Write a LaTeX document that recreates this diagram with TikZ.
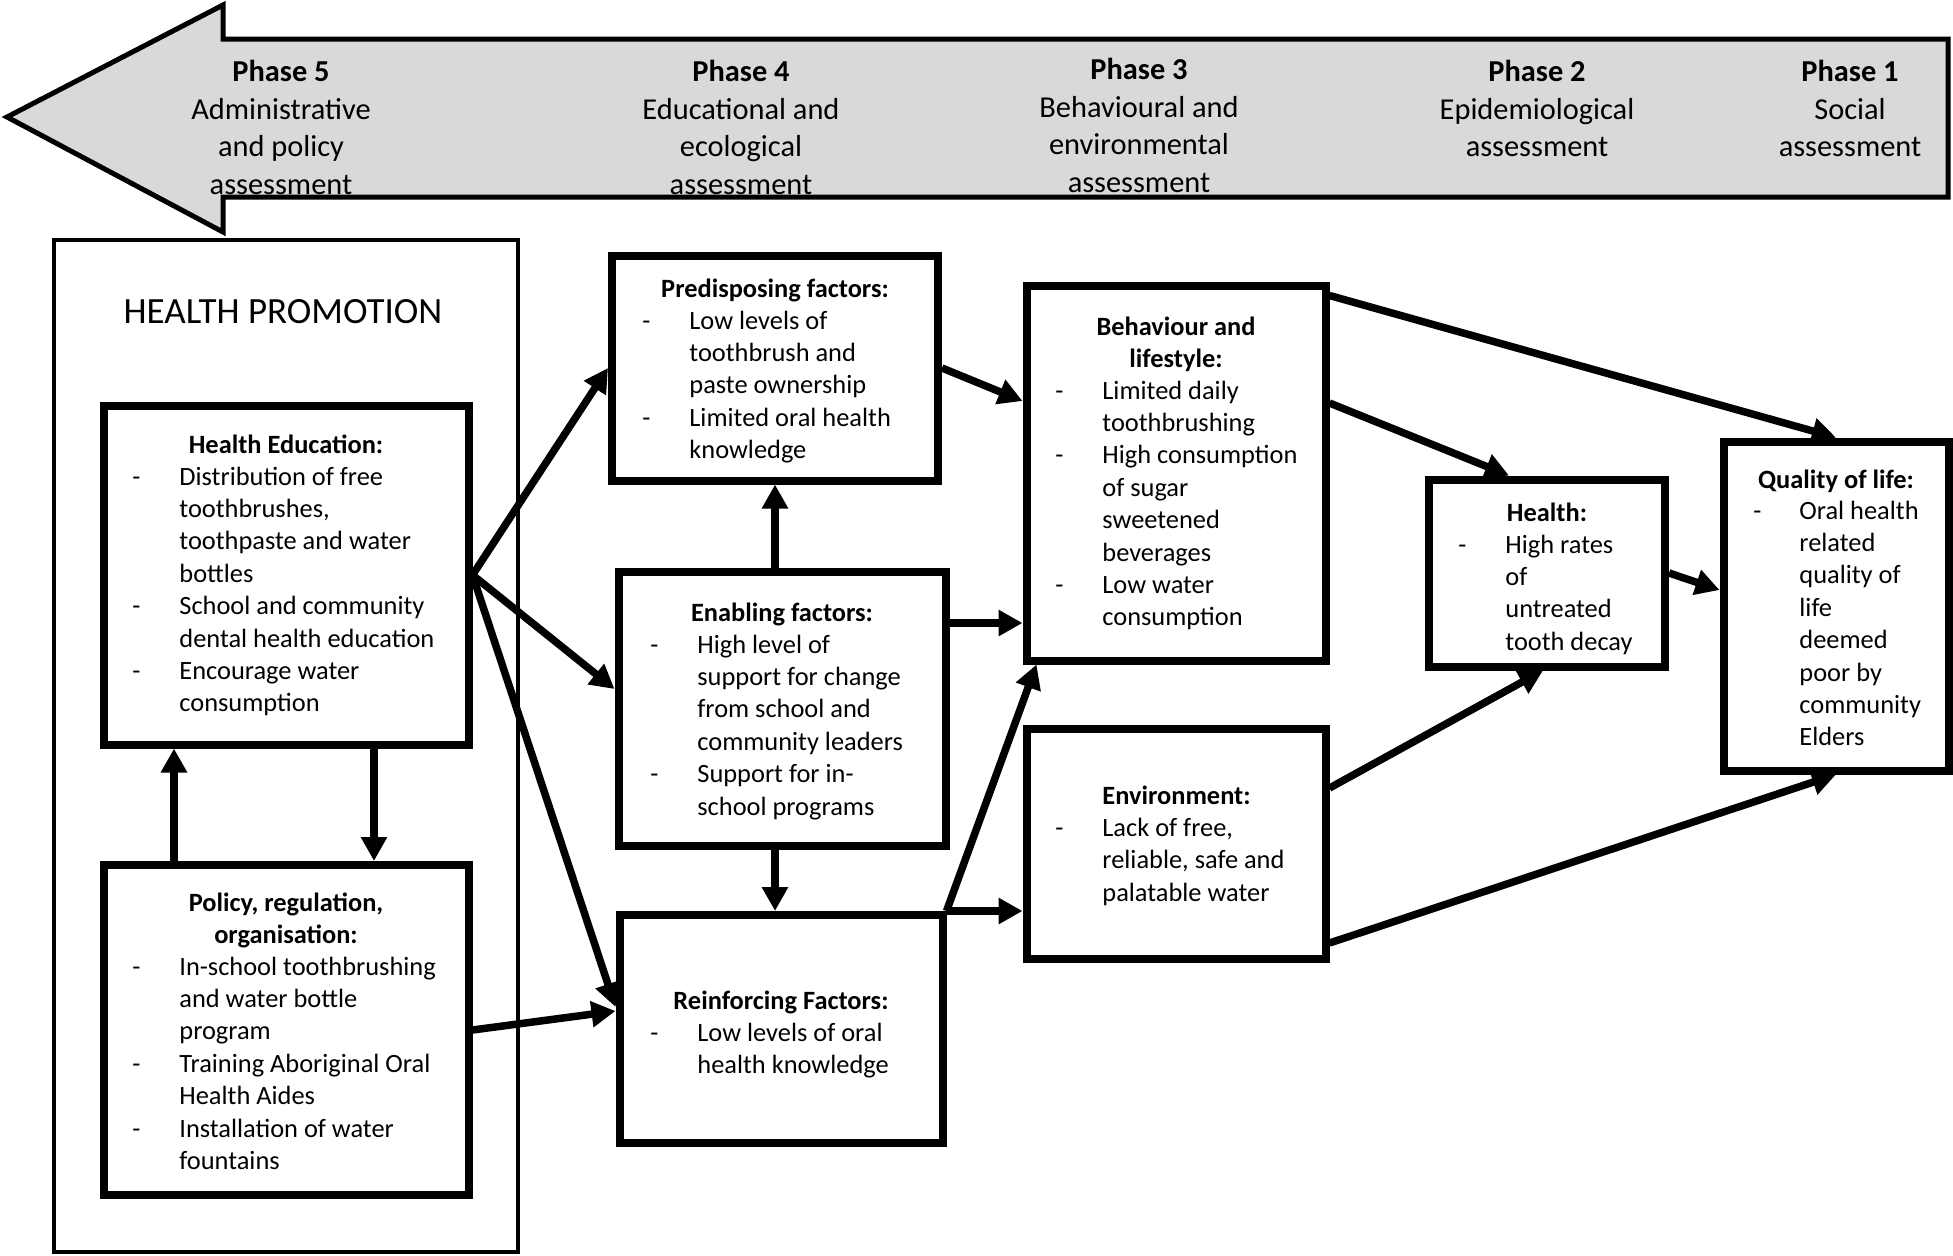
\documentclass[tikz,border=0pt]{standalone}
\usepackage{fontspec}
\setmainfont{Carlito}
\usetikzlibrary{arrows.meta}
\definecolor{grau}{RGB}{217,217,217}

\begin{document}
\begin{tikzpicture}[x=0.5pt,y=-0.5pt]
\tikzset{kasten/.style={draw,line width=4pt,inner sep=0pt},
  titel/.style={anchor=north,inner sep=0pt,font=\fontsize{13.2}{16.2}\selectfont\bfseries},
  liste/.style={anchor=north west,inner sep=0pt,font=\fontsize{13.2}{16.2}\selectfont},
  phase/.style={anchor=north,inner sep=0pt,font=\fontsize{15.2}{18.75}\selectfont},
  pfeil/.style={line width=3.75pt,-{Triangle[length=12pt,width=12.5pt]}}}
\useasboundingbox (0,0) rectangle (1953,1255);
% phases
\draw[line width=2.5pt,fill=grau] (7,117) -- (223,5) -- (223,39) -- (1948,39) -- (1948,197) -- (223,197) -- (223,232) -- cycle;
\node[phase] (p5) at (281,55) {\begin{tabular}{@{}c@{}}\textbf{Phase 5}\\Administrative\\and policy\\assessment\end{tabular}};
\node[phase] (p4) at (741,55) {\begin{tabular}{@{}c@{}}\textbf{Phase 4}\\Educational and\\ecological\\assessment\end{tabular}};
\node[phase] (p3) at (1139,53) {\begin{tabular}{@{}c@{}}\textbf{Phase 3}\\Behavioural and\\environmental\\assessment\end{tabular}};
\node[phase] (p2) at (1537,55) {\begin{tabular}{@{}c@{}}\textbf{Phase 2}\\Epidemiological\\assessment\end{tabular}};
\node[phase] (p1) at (1850,55) {\begin{tabular}{@{}c@{}}\textbf{Phase 1}\\Social\\assessment\end{tabular}};
% health promotion
\node[kasten,line width=2pt,minimum width=232pt,minimum height=506pt] (hp) at (286,746) {};
\node[inner sep=0pt,font=\fontsize{18.5}{22}\selectfont] (hpt) at (283,312) {HEALTH PROMOTION};
\node[kasten,minimum width=182.5pt,minimum height=169.5pt] (he) at (286,575) {};
\node[titel] (het) at (286,430) {\strut Health Education:};
\node[liste] (hel) at (132,462) {\begin{tabular}{@{}p{23.5pt}@{}l@{}}
- & Distribution of free\\ & toothbrushes,\\ & toothpaste and water\\ & bottles\\
- & School and community\\ & dental health education\\
- & Encourage water\\ & consumption\end{tabular}};
\node[kasten,minimum width=182.5pt,minimum height=165pt] (po) at (286,1030) {};
\node[titel] (pot) at (286,888) {\begin{tabular}{@{}c@{}}Policy, regulation,\\organisation:\end{tabular}};
\node[liste] (pol) at (132,952) {\begin{tabular}{@{}p{23.5pt}@{}l@{}}
- & In-school toothbrushing\\ & and water bottle\\ & program\\
- & Training Aboriginal Oral\\ & Health Aides\\
- & Installation of water\\ & fountains\end{tabular}};
% factors
\node[kasten,minimum width=163pt,minimum height=112.5pt] (pd) at (775,368) {};
\node[titel] (pdt) at (775,274) {\strut Predisposing factors:};
\node[liste] (pdl) at (642,306) {\begin{tabular}{@{}p{23.5pt}@{}l@{}}
- & Low levels of\\ & toothbrush and\\ & paste ownership\\
- & Limited oral health\\ & knowledge\end{tabular}};
\node[kasten,minimum width=163.5pt,minimum height=137pt] (en) at (782,709) {};
\node[titel] (ent) at (782,598) {\strut Enabling factors:};
\node[liste] (enl) at (650,630) {\begin{tabular}{@{}p{23.5pt}@{}l@{}}
- & High level of\\ & support for change\\ & from school and\\ & community leaders\\
- & Support for in-\\ & school programs\end{tabular}};
\node[kasten,minimum width=161.5pt,minimum height=114pt] (re) at (781,1029) {};
\node[titel] (ret) at (781,986) {\strut Reinforcing Factors:};
\node[liste] (rel) at (650,1018) {\begin{tabular}{@{}p{23.5pt}@{}l@{}}
- & Low levels of oral\\ & health knowledge\end{tabular}};
% behaviour and environment
\node[kasten,minimum width=149.5pt,minimum height=187.5pt] (bh) at (1176,473) {};
\node[titel] (bht) at (1176,312) {\begin{tabular}{@{}c@{}}Behaviour and\\lifestyle:\end{tabular}};
\node[liste] (bhl) at (1055,376) {\begin{tabular}{@{}p{23.5pt}@{}l@{}}
- & Limited daily\\ & toothbrushing\\
- & High consumption\\ & of sugar\\ & sweetened\\ & beverages\\
- & Low water\\ & consumption\end{tabular}};
\node[kasten,minimum width=149.5pt,minimum height=115pt] (ev) at (1176,844) {};
\node[liste] (evl) at (1055,781) {\begin{tabular}{@{}p{23.5pt}@{}l@{}}
 & \textbf{Environment:}\\
- & Lack of free,\\ & reliable, safe and\\ & palatable water\end{tabular}};
% health and quality of life
\node[kasten,minimum width=118pt,minimum height=93.5pt] (hl) at (1547,573) {};
\node[titel] (hlt) at (1547,498) {\strut Health:};
\node[liste] (hll) at (1458,530) {\begin{tabular}{@{}p{23.5pt}@{}l@{}}
- & High rates\\ & of\\ & untreated\\ & tooth decay\end{tabular}};
\node[kasten,minimum width=112.5pt,minimum height=164.5pt] (ql) at (1836,606) {};
\node[titel] (qlt) at (1836,465) {\strut Quality of life:};
\node[liste] (qll) at (1753,496) {\begin{tabular}{@{}p{23pt}@{}l@{}}
- & Oral health\\ & related\\ & quality of\\ & life\\ & deemed\\ & poor by\\ & community\\ & Elders\end{tabular}};
% arrows
\coordinate (herunter) at ([xshift=44pt]he.south);
\coordinate (hinauf) at ([xshift=-56pt]po.north);
\coordinate (enaus) at ([yshift=43pt]en.east);
\draw[pfeil] (herunter) -- (herunter |- po.north);
\draw[pfeil] (hinauf) -- (hinauf |- he.south);
\draw[pfeil] (he.east) -- (pd.west);
\draw[pfeil] (he.east) -- ([yshift=10pt]en.west);
\draw[pfeil] (he.east) -- ([yshift=11pt]re.west);
\draw[pfeil] (po.east) -- ([yshift=9pt]re.west);
\draw[pfeil] (en.north -| pd.south) -- (pd.south);
\draw[pfeil] (en.south -| pd.south) -- (re.north -| pd.south);
\draw[pfeil] (pd.east) -- ([yshift=36pt]bh.west);
\draw[pfeil] (enaus) -- (enaus -| bh.west);
\draw[pfeil] (re.north east) -- ([xshift=7pt]bh.south west);
\draw[pfeil] (re.north east) -- (re.north east -| ev.west);
\draw[pfeil] ([yshift=-7pt]bh.north east) -- (ql.north);
\draw[pfeil] ([yshift=35pt]bh.east) -- ([xshift=-19pt]hl.north);
\draw[pfeil] (hl.east) -- ([yshift=8pt]ql.west);
\draw[pfeil] ([yshift=28pt]ev.east) -- ([xshift=-2pt]hl.south);
\draw[pfeil] ([yshift=10pt]ev.south east) -- (ql.south);
\end{tikzpicture}
\end{document}
